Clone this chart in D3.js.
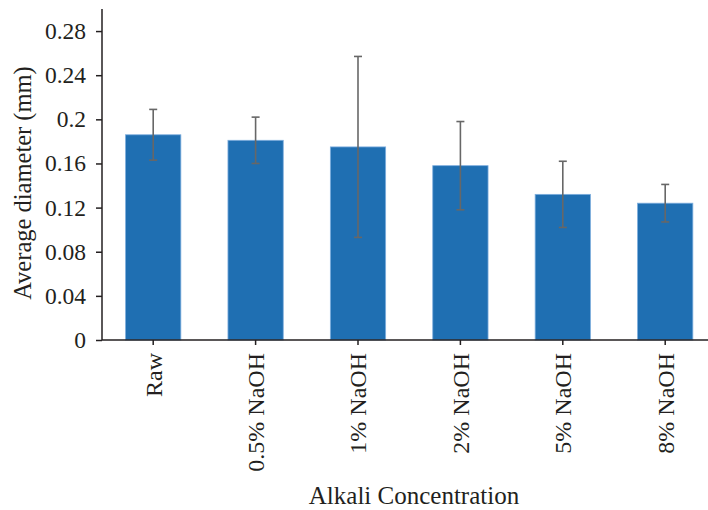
<!DOCTYPE html>
<html>
<head>
<meta charset="utf-8">
<script src="https://cdn.jsdelivr.net/npm/d3@7"></script>
<style>
  html, body { margin: 0; padding: 0; background: #fff; }
  svg { display: block; }
  text { font-family: "Liberation Serif", "DejaVu Serif", serif; fill: #231f20; }
</style>
</head>
<body>
<svg id="chart" width="708" height="510"></svg>
<script>
// Fibre diameter after alkali treatment
const categories = ["Raw", "0.5% NaOH", "1% NaOH", "2% NaOH", "5% NaOH", "8% NaOH"];
const meanDiameter = [0.186, 0.181, 0.175, 0.158, 0.132, 0.124];
const errorDiameter = [0.023, 0.021, 0.082, 0.040, 0.030, 0.017];
const yTicks = [0, 0.04, 0.08, 0.12, 0.16, 0.2, 0.24, 0.28];
const yTickLabels = ["0", "0.04", "0.08", "0.12", "0.16", "0.2", "0.24", "0.28"];

const svg = d3.select("#chart");
const plotLeft = 102, plotBottom = 340, plotTop = 9;
const step = 102.4;

const x = d3.scaleBand()
  .domain(categories)
  .range([plotLeft, plotLeft + step * categories.length])
  .paddingInner(0.46)
  .paddingOuter(0.23);

const y = d3.scaleLinear().domain([0, 0.3]).range([plotBottom, plotTop]);

const rows = categories.map((c, i) => ({ c, v: meanDiameter[i], e: errorDiameter[i] }));

// bars
svg.append("g").selectAll("rect").data(rows).join("rect")
  .attr("x", d => x(d.c))
  .attr("y", d => y(d.v))
  .attr("width", x.bandwidth())
  .attr("height", d => y(0) - y(d.v))
  .attr("fill", "#1f6fb2")
  .attr("stroke", "#7eaede")
  .attr("stroke-width", 0.8);

// error bars
const eb = svg.append("g").attr("stroke", "#676767").attr("stroke-width", 1.6).attr("fill", "none");
rows.forEach(d => {
  const cx = x(d.c) + x.bandwidth() / 2;
  eb.append("line").attr("x1", cx).attr("x2", cx).attr("y1", y(d.v + d.e)).attr("y2", y(d.v - d.e));
  eb.append("line").attr("x1", cx - 4).attr("x2", cx + 4).attr("y1", y(d.v + d.e)).attr("y2", y(d.v + d.e));
  eb.append("line").attr("x1", cx - 4).attr("x2", cx + 4).attr("y1", y(d.v - d.e)).attr("y2", y(d.v - d.e));
});

// y axis
const yAxis = svg.append("g")
  .attr("transform", `translate(${plotLeft},0)`)
  .call(d3.axisLeft(y).tickValues(yTicks)
    .tickFormat((d, i) => yTickLabels[i]).tickSize(6).tickPadding(10));
yAxis.select(".domain").attr("d", `M0,${plotTop}V${plotBottom}`);
yAxis.selectAll("path, line").attr("stroke", "#231f20").attr("stroke-width", 1.5);
yAxis.selectAll("text").attr("font-size", 23.5).attr("font-family", "Liberation Serif").attr("fill", "#231f20");

// x axis
const xAxis = svg.append("g")
  .attr("transform", `translate(0,${plotBottom})`)
  .call(d3.axisBottom(x).tickSize(5).tickSizeOuter(0));
xAxis.select(".domain").attr("d", `M${plotLeft},0H708`);
xAxis.selectAll("path, line").attr("stroke", "#231f20").attr("stroke-width", 1.5);
xAxis.selectAll("text")
  .attr("font-size", 24).attr("font-family", "Liberation Serif").attr("fill", "#231f20")
  .attr("transform", "rotate(-90)")
  .attr("text-anchor", "end")
  .attr("x", -13).attr("y", 0).attr("dy", "0.35em");

// axis titles
svg.append("text")
  .attr("x", 414).attr("y", 504)
  .attr("text-anchor", "middle")
  .attr("font-size", 25)
  .text("Alkali Concentration");

svg.append("text")
  .attr("transform", "translate(31,183) rotate(-90)")
  .attr("text-anchor", "middle")
  .attr("font-size", 24.5)
  .text("Average diameter (mm)");
</script>
</body>
</html>
